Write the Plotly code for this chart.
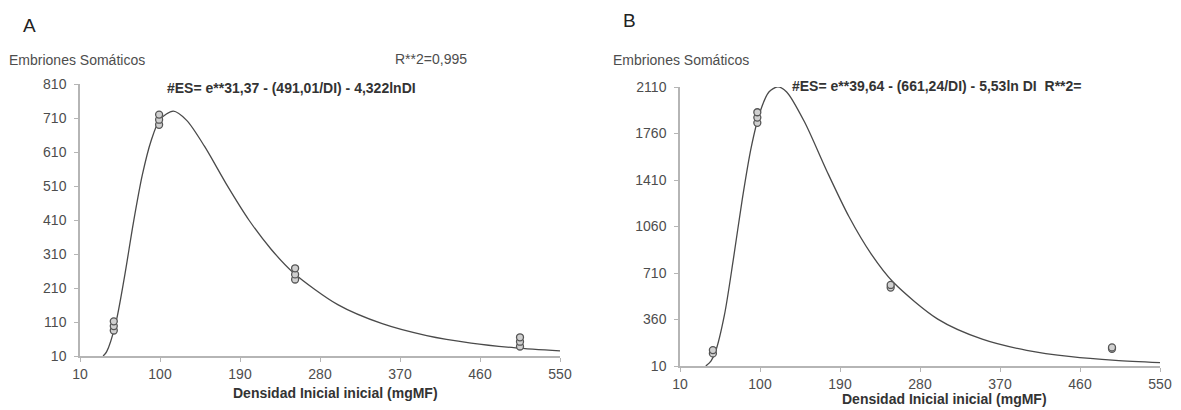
import plotly.graph_objects as go

# ---------------- data ----------------
# Panel A: observed points
a_obs_x = [48, 48, 48, 99, 99, 99, 252, 252, 252, 505, 505, 505]
a_obs_y = [85, 98, 112, 690, 705, 720, 235, 250, 268, 38, 52, 65]
# Panel A: fitted curve (sampled along the drawn line)
a_fit_x = [36, 40, 50, 60, 70, 80, 90, 100, 115, 130, 150, 175, 200, 225, 250, 300, 350, 400, 450, 500, 550]
a_fit_y = [10, 23, 104, 242, 401, 541, 643, 706, 730, 703, 627, 514, 410, 324, 255, 161, 105, 70, 48, 34, 25]

# Panel B: observed points
b_obs_x = [47, 47, 97, 97, 97, 247, 247, 496, 496]
b_obs_y = [105, 130, 1840, 1880, 1920, 600, 620, 140, 150]
# Panel B: fitted curve
b_fit_x = [39, 40, 45, 50, 60, 70, 80, 90, 100, 110, 120, 130, 150, 175, 200, 225, 250, 300, 350, 400, 450, 500, 550]
b_fit_y = [10, 15, 49, 119, 394, 812, 1263, 1652, 1922, 2072, 2111, 2073, 1848, 1480, 1135, 854, 640, 363, 212, 128, 80, 52, 35]

x_ticks = [10, 100, 190, 280, 370, 460, 550]
a_y_ticks = [10, 110, 210, 310, 410, 510, 610, 710, 810]
b_y_ticks = [10, 360, 710, 1060, 1410, 1760, 2110]

# ---------------- figure ----------------
W, H = 1181, 410
FONT = "Liberation Sans, Arial, sans-serif"
TXT = "#4d4d4d"
AXC = "#b5b5b5"

def px_x(p):
    return p / W

def px_y(p):
    return 1 - p / H

fig = go.Figure()

line_style = dict(color="#4a4a4a", width=1.3, shape="spline", smoothing=0.8)
marker_style = dict(symbol="circle", size=7, color="#d0d0d0",
                    line=dict(color="#555555", width=1.3))

fig.add_trace(go.Scatter(x=a_fit_x, y=a_fit_y, mode="lines", line=line_style,
                         xaxis="x", yaxis="y", showlegend=False, hoverinfo="skip"))
fig.add_trace(go.Scatter(x=a_obs_x, y=a_obs_y, mode="markers", marker=marker_style,
                         xaxis="x", yaxis="y", showlegend=False))
fig.add_trace(go.Scatter(x=b_fit_x, y=b_fit_y, mode="lines", line=line_style,
                         xaxis="x2", yaxis="y2", showlegend=False, hoverinfo="skip"))
fig.add_trace(go.Scatter(x=b_obs_x, y=b_obs_y, mode="markers", marker=marker_style,
                         xaxis="x2", yaxis="y2", showlegend=False))

axis_common = dict(showgrid=False, zeroline=False, showline=True, linecolor=AXC,
                   linewidth=1.5, ticks="outside", ticklen=4, tickcolor=AXC,
                   automargin=False,
                   tickfont=dict(family=FONT, size=14, color=TXT))

fig.update_layout(
    width=W, height=H, autosize=False,
    margin=dict(l=0, r=0, t=0, b=0, pad=0),
    paper_bgcolor="white", plot_bgcolor="white",
    xaxis=dict(domain=[px_x(80), px_x(560)], range=[10, 550], tickvals=x_ticks,
               anchor="y", **axis_common),
    yaxis=dict(domain=[px_y(356), px_y(84)], range=[10, 810], tickvals=a_y_ticks,
               anchor="x", ticklabelstandoff=5, **axis_common),
    xaxis2=dict(domain=[px_x(680), px_x(1160)], range=[10, 550], tickvals=x_ticks,
                anchor="y2", **axis_common),
    yaxis2=dict(domain=[px_y(366), px_y(87)], range=[10, 2110], tickvals=b_y_ticks,
                anchor="x2", ticklabelstandoff=5, **axis_common),
)

def ann(text, x, y, size=14, bold=False, color=TXT, xanchor="left"):
    if bold:
        text = "<b>" + text + "</b>"
    fig.add_annotation(text=text, x=px_x(x), y=px_y(y), xref="paper", yref="paper",
                       showarrow=False, xanchor=xanchor, yanchor="middle",
                       font=dict(family=FONT, size=size, color=color))

# Panel A texts
ann("A", 21, 25, size=19, color="#222222")
ann("Embriones Somáticos", 7, 60, size=14)
ann("R**2=0,995", 393, 59, size=14)
ann("#ES= e**31,37 - (491,01/DI) - 4,322lnDI", 165, 88, size=14, bold=True, color="#333333")
ann("Densidad Inicial inicial (mgMF)", 335, 393, size=14, bold=True, color="#333333", xanchor="center")

# Panel B texts
ann("B", 621, 20, size=19, color="#222222")
ann("Embriones Somáticos", 611, 60, size=14)
ann("#ES= e**39,64 - (661,24/DI) - 5,53ln DI  R**2=", 790, 86, size=14, bold=True, color="#333333")
ann("Densidad Inicial inicial (mgMF)", 944, 399, size=14, bold=True, color="#333333", xanchor="center")

fig.write_html("out.html", config={"displayModeBar": False},
               post_script="document.body.style.margin='0';document.body.style.overflow='hidden';")
